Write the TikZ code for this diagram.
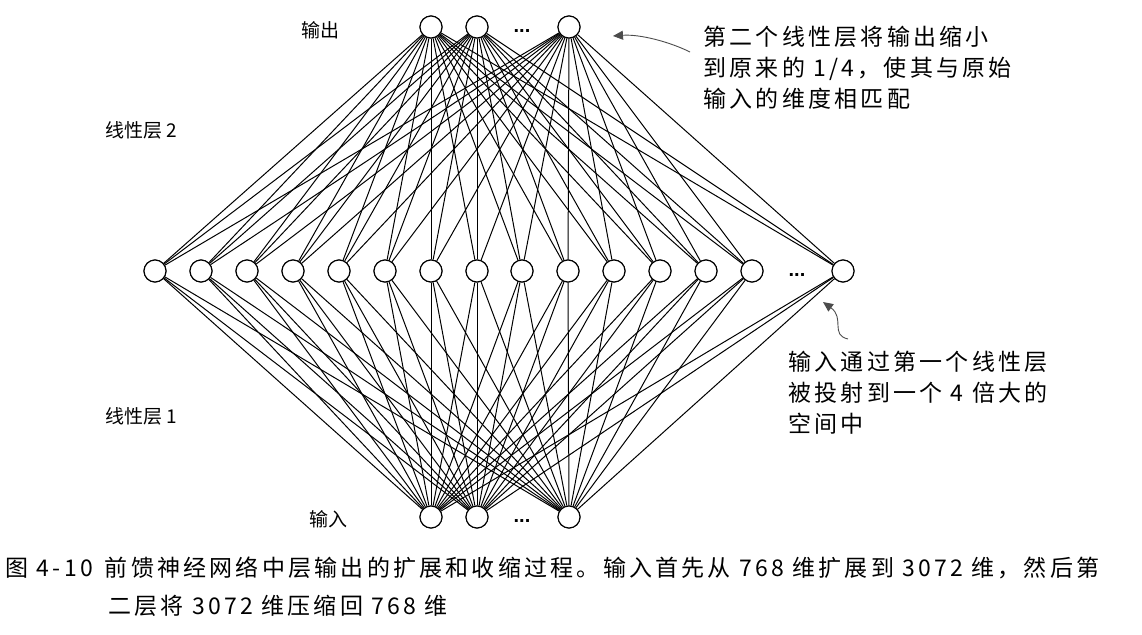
\documentclass[tikz,border=0pt]{standalone}
\usepackage{fontspec}
\setmainfont{Liberation Sans}
\newfontfamily\cjk{Noto Sans CJK SC}
\newfontfamily\cjkw{Noto Sans CJK SC}[LetterSpace=14]
\usetikzlibrary{arrows.meta}
\begin{document}
\begin{tikzpicture}[x=1pt,y=-1pt,
  nd/.style={circle,draw,line width=1.1pt,minimum size=22pt,inner sep=0pt,fill=white},
  ln/.style={line width=1pt},
  lab/.style={font=\cjk\fontsize{19}{20}\selectfont,align=left,anchor=west},
  dots/.style={font=\bfseries\fontsize{20}{20}\selectfont},
  arr/.style={-{Triangle[length=10pt,width=9pt]},line width=0.9pt,gray!60!black}]
\useasboundingbox (0,0) rectangle (1142,634);
\foreach \i/\x in {1/431,2/477,3/569}{
  \node[nd] (t\i) at (\x,27) {};
  \node[nd] (b\i) at (\x,517) {};}
\foreach \i/\x in {1/155,2/201,3/247,4/293,5/339,6/385,7/431,8/477,9/522,10/568,11/614,12/660,13/706,14/752,15/843}{
  \node[nd] (m\i) at (\x,271) {};}
\foreach \i in {1,2,3}{\foreach \j in {1,...,15}{
  \draw[ln] (t\i) -- (m\j); \draw[ln] (b\i) -- (m\j);}}
\foreach \i/\x in {1/431,2/477,3/569}{
  \node[nd] at (\x,27) {}; \node[nd] at (\x,517) {};}
\foreach \x in {155,201,247,293,339,385,431,477,522,568,614,660,706,752,843}{\node[nd] at (\x,271) {};}
\node[dots] (d1) at (522,31) {...};
\node[dots] (d2) at (522,521) {...};
\node[dots] (d3) at (797,275) {...};
\node[lab] (l1) at (298,30) {输出};
\node[lab] (l2) at (102,130) {线性层 2};
\node[lab] (l3) at (102,416) {线性层 1};
\node[lab] (l4) at (306,519) {输入};
\node[lab,font=\cjkw\fontsize{23}{31}\selectfont] (n1) at (700,68) {第二个线性层将输出缩小\\到原来的 1/4，使其与原始\\输入的维度相匹配};
\node[lab,font=\cjkw\fontsize{23}{31}\selectfont] (n2) at (785,393) {输入通过第一个线性层\\被投射到一个 4 倍大的\\空间中};
\coordinate (a1) at (690,52);
\coordinate (a1t) at (613,36);
\draw[arr] (a1) .. controls (670,42) and (640,34) .. (a1t);
\coordinate (a2) at (848,339);
\coordinate (a2t) at (823,302);
\draw[arr] (a2) .. controls (830,335) and (845,318) .. (a2t);
\node[anchor=west,font=\cjkw\fontsize{23}{38}\selectfont,align=left] (cap) at (2,587) {图 4-10\hspace{12pt}前馈神经网络中层输出的扩展和收缩过程。输入首先从 768 维扩展到 3072 维，然后第\\\hspace{103pt}二层将 3072 维压缩回 768 维};
\end{tikzpicture}
\end{document}
